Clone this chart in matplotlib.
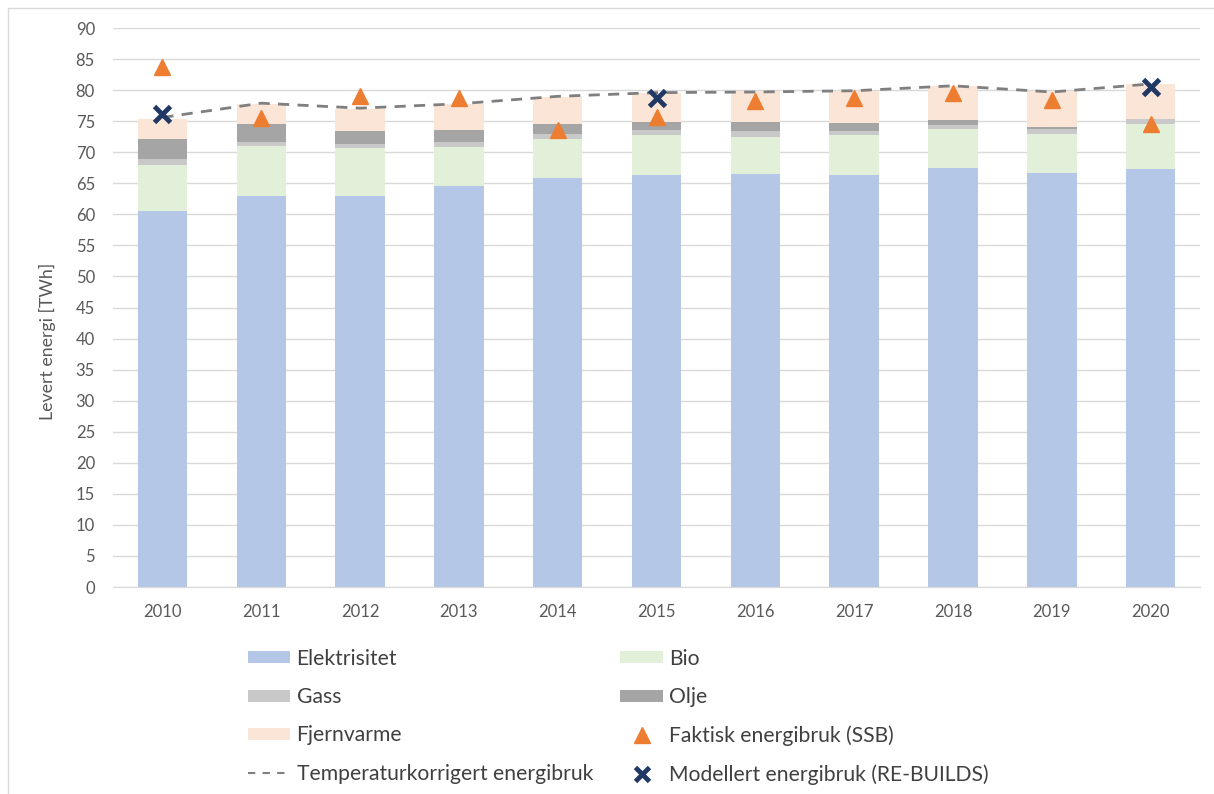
import numpy as np
import matplotlib.pyplot as plt
from matplotlib.lines import Line2D
from matplotlib.patches import Patch

plt.rcParams['font.family'] = ['Lato', 'DejaVu Sans']

years = ['2010', '2011', '2012', '2013', '2014', '2015', '2016', '2017', '2018', '2019', '2020']

# delivered energy per carrier, TWh
elektrisitet = [60.5, 62.9, 62.9, 64.6, 65.9, 66.3, 66.5, 66.3, 67.5, 66.6, 67.3]
bio = [7.45, 8.1, 7.8, 6.3, 6.2, 6.5, 6.0, 6.4, 6.2, 6.3, 7.3]
gass = [0.95, 0.7, 0.6, 0.7, 0.8, 0.8, 0.9, 0.7, 0.7, 0.8, 0.7]
olje = [3.2, 2.8, 2.2, 2.0, 1.7, 1.3, 1.4, 1.3, 0.8, 0.3, 0.1]
fjernvarme = [3.3, 3.3, 3.4, 4.1, 4.3, 4.6, 5.0, 5.2, 5.5, 5.8, 5.6]

faktisk = [83.7, 75.5, 79.0, 78.7, 73.6, 75.7, 78.3, 78.7, 79.6, 78.4, 74.6]
temperaturkorrigert = [75.6, 77.9, 77.1, 77.8, 79.0, 79.6, 79.7, 79.9, 80.7, 79.7, 81.0]
modellert_years = ['2010', '2015', '2020']
modellert = [76.2, 78.7, 80.5]

stack = [
    ('Elektrisitet', elektrisitet, '#b4c7e7'),
    ('Bio', bio, '#e2f0d9'),
    ('Gass', gass, '#c9c9c9'),
    ('Olje', olje, '#a5a5a5'),
    ('Fjernvarme', fjernvarme, '#fbe5d6'),
]

fig = plt.figure(figsize=(12.14, 7.94), dpi=100)
ax = fig.add_axes([0.0931, 0.2607, 0.8954, 0.704])

x = np.arange(len(years))
bottom = np.zeros(len(years))
for name, vals, col in stack:
    ax.bar(x, vals, 0.5, bottom=bottom, color=col, zorder=2)
    bottom += np.array(vals)

ax.plot(x, temperaturkorrigert, color='#7f7f7f', lw=2, ls=(0, (4, 3)), zorder=3)
ax.plot(x, faktisk, ls='none', marker='^', ms=11, color='#ed7d31', zorder=4)
mx = [years.index(y) for y in modellert_years]
ax.plot(mx, modellert, ls='none', marker='x', ms=12, mew=3.5, color='#203864', zorder=5)

ax.set_xlim(-0.5, len(years) - 0.5)
ax.set_ylim(0, 90)
ax.set_yticks(np.arange(0, 91, 5))
ax.set_xticks(x)
ax.set_xticklabels(years)
ax.grid(axis='y', color='#d9d9d9', lw=1, zorder=0)
for s in ax.spines.values():
    s.set_visible(False)
ax.spines['bottom'].set_visible(True)
ax.spines['bottom'].set_color('#d9d9d9')
ax.tick_params(length=0, labelsize=12, colors='#595959', pad=12)
ax.tick_params(axis='y', pad=13)
ax.set_ylabel('Levert energi [TWh]', fontsize=12.8, color='#595959')
ax.yaxis.set_label_coords(-0.052, 0.44)

# legend, two columns filled column by column
def box(c):
    return Patch(facecolor=c, edgecolor='none')

handles = [
    box('#b4c7e7'), box('#c9c9c9'), box('#fbe5d6'),
    Line2D([], [], color='#7f7f7f', lw=1.5, ls=(0, (3.5, 3.5))),
    box('#e2f0d9'), box('#a5a5a5'),
    Line2D([], [], ls='none', marker='^', ms=11, color='#ed7d31'),
    Line2D([], [], ls='none', marker='x', ms=10, mew=3.5, color='#203864'),
]
labels = [
    'Elektrisitet', 'Gass', 'Fjernvarme', 'Temperaturkorrigert energibruk',
    'Bio', 'Olje', 'Faktisk energibruk (SSB)', 'Modellert energibruk (RE-BUILDS)',
]
leg = fig.legend(handles, labels, ncol=2, loc='upper left', bbox_to_anchor=(0.2043, 0.183),
                 frameon=False, fontsize=15.2, handlelength=2.0, handleheight=0.5,
                 handletextpad=0.3, columnspacing=1.3, labelspacing=0.87,
                 borderpad=0, borderaxespad=0)
for t in leg.get_texts():
    t.set_color('#404040')

# thin chart-area border
fig.add_artist(Line2D([0.0066, 0.0066], [0.99, 0.0], color='#d9d9d9', lw=1))
fig.add_artist(Line2D([0.0066, 1.0], [0.99, 0.99], color='#d9d9d9', lw=1))

fig.savefig('out.png', dpi=100)
